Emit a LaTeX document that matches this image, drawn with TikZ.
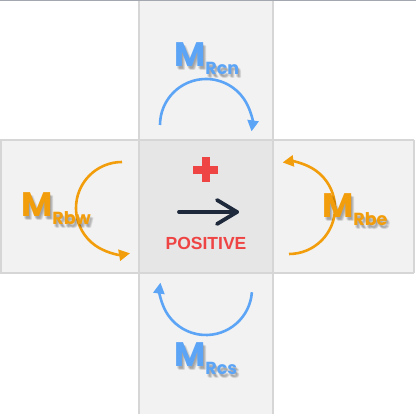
\documentclass[tikz,border=0pt]{standalone}
\usepackage{fontspec}
\setmainfont{Poppins}
\setsansfont{Liberation Sans}
\usetikzlibrary{arrows.meta,calc}
\definecolor{bandbg}{HTML}{F2F2F2}
\definecolor{corebg}{HTML}{E6E6E6}
\definecolor{bandline}{HTML}{D6D6D6}
\definecolor{topline}{HTML}{A3A7B0}
\definecolor{cblue}{HTML}{5CA4F6}
\definecolor{corange}{HTML}{F29D0B}
\definecolor{cred}{HTML}{EF4444}
\definecolor{navy}{HTML}{1E293B}
\tikzset{
  band/.style={fill=bandbg,draw=none},
  core/.style={fill=corebg,draw=none},
  edge/.style={draw=bandline,line width=1.5pt},
  momarc/.style={line width=2.6pt,-{Triangle[length=11pt,width=11pt]}},
  momtxt/.style={font=\fontsize{34}{34}\selectfont\bfseries,inner sep=0pt,anchor=base west},
  signtxt/.style={font=\sffamily\bfseries\fontsize{17.5}{17.5}\selectfont,text=cred,inner sep=0pt},
}
\newcommand{\msub}[1]{\raisebox{-8pt}{\fontsize{17.5}{17.5}\selectfont #1}}
% moment label with soft shadow: name, position, colour, subscript
\newcommand{\momlbl}[4]{%
  \foreach \dx/\dy in {1/2,2/3,3/4,2/4,1/3,3/3}{%
    \node[momtxt,text=black,opacity=.06] at ($(#2)+(\dx,\dy)$) {M\msub{#4}};}
  \node[momtxt,text=#3] (#1) at (#2) {M\msub{#4}};}

\begin{document}
\begin{tikzpicture}[x=1pt,y=-1pt]
  \useasboundingbox (0,0) rectangle (416,414);
  % cross of bands
  \fill[band] (139,0) rectangle (273,414);
  \fill[band] (0,140) rectangle (414,273);
  \fill[core] (139,140) rectangle (273,273);
  \draw[edge] (139,0) -- (139,414);
  \draw[edge] (273,0) -- (273,414);
  \draw[edge] (0,140) -- (414,140);
  \draw[edge] (0,273) -- (414,273);
  \draw[edge] (0.75,140) -- (0.75,273);
  \draw[edge] (414,140) -- (414,273);
  \draw[topline,line width=1.5pt] (0,0.75) -- (416,0.75);

  % arc centres
  \coordinate (cn) at (206,125);
  \coordinate (cs) at (206,289);
  \coordinate (cw) at (122,208);
  \coordinate (ce) at (289,208);

  \draw[momarc,cblue] ([shift={(-180:46)}]cn) arc[start angle=-180,end angle=8,radius=46];
  \draw[momarc,cblue] ([shift={(4:46)}]cs) arc[start angle=4,end angle=188,radius=46];
  \draw[momarc,corange] ([shift={(-90:46)}]cw) arc[start angle=-90,end angle=-280,radius=46];
  \draw[momarc,corange] ([shift={(-270:46)}]ce) arc[start angle=-270,end angle=-458,radius=46];

  \momlbl{mrcn}{174,67}{cblue}{Rcn}
  \momlbl{mrcs}{174,367}{cblue}{Rcs}
  \momlbl{mrbw}{21,217}{corange}{Rbw}
  \momlbl{mrbe}{322,218}{corange}{Rbe}

  % sign in the middle
  \fill[cred] (193,166) rectangle (218,174);
  \fill[cred] (201.5,157) rectangle (209.5,182);
  \coordinate (ar0) at (179,212);
  \coordinate (ar1) at (237,212);
  \draw[navy,line width=3.8pt,line cap=round,line join=round] (ar0) -- (ar1);
  \draw[navy,line width=3.8pt,line cap=round,line join=round] ($(ar1)+(-20,-12)$) -- (ar1) -- ($(ar1)+(-20,12)$);
  \node[signtxt] (pos) at (206,243.5) {POSITIVE};
\end{tikzpicture}
\end{document}
